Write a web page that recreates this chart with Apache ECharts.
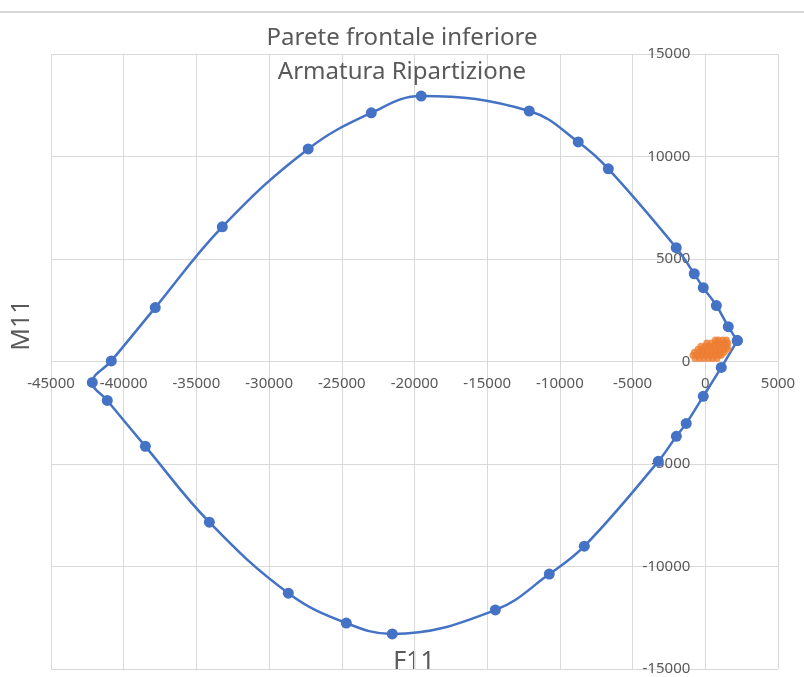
<!DOCTYPE html>
<html>
<head>
<meta charset="utf-8">
<script src="https://cdn.jsdelivr.net/npm/echarts@6/dist/echarts.min.js"></script>
<style>
html,body{margin:0;padding:0;background:#fff;}
#chart{width:804px;height:677px;}
</style>
</head>
<body>
<div id="chart"></div>
<script>
// Domain (blue) series: F11 and M11 values, in drawing order
var domainF = [2200, 1580, 760, -140, -760, -2000, -6670, -8740, -12110, -19540, -22970, -27310, -33220, -37830, -40850, -42160, -41130, -38510, -34110, -28680, -24690, -21530, -14440, -10730, -8320, -3230, -1990, -1310, -140, 1100, 2200];
var domainM = [1020, 1700, 2730, 3600, 4280, 5550, 9400, 10710, 12220, 12950, 12130, 10370, 6570, 2630, 30, -1020, -1900, -4140, -7840, -11300, -12760, -13290, -12120, -10370, -9010, -4870, -3650, -3020, -1700, -290, 1020];

// Load points (orange)
var loadF = [-700,-400,-100,200,500,800,
             -850,-550,-250,50,350,650,950,1100,
             -750,-450,-150,150,450,750,1050,1300,
             -500,-200,100,400,700,1000,1300,1550,
             -300,0,300,600,900,1200,1500,
             100,400,700,1000,1300,1550,
             700,900,1200,1450];
var loadM = [150,150,150,150,150,150,
             300,300,300,300,300,300,300,300,
             450,450,450,450,450,450,450,450,
             600,600,600,600,600,600,600,600,
             750,750,750,750,750,750,750,
             900,900,900,900,900,900,
             1050,1050,1050,1050];

var xMin = -45000, xMax = 5000, xStep = 5000;
var yMin = -15000, yMax = 15000, yStep = 5000;

var titleLines = ['Parete frontale inferiore', 'Armatura Ripartizione'];
var xName = 'F11', yName = 'M11';

function pairs(a, b) { var r = []; for (var i = 0; i < a.length; i++) r.push([a[i], b[i]]); return r; }

var FONT = '"Noto Sans", "Open Sans", sans-serif';
var TXT = '#595959';
var GRID = '#d9d9d9';
function plain(v) { return String(v); }

var G = {left: 51, right: 26, top: 54, bottom: 8};

var chart = echarts.init(document.getElementById('chart'), null, {renderer: 'canvas'});
chart.setOption({
  animation: false,
  backgroundColor: '#fff',
  title: {
    text: titleLines.join('\n'),
    left: 'center',
    top: 16,
    textStyle: {fontFamily: FONT, fontSize: 24, fontWeight: 'normal', color: TXT, lineHeight: 34}
  },
  grid: {left: G.left, right: G.right, top: G.top, bottom: G.bottom, containLabel: false, outerBoundsMode: 'none'},
  xAxis: {
    type: 'value', min: xMin, max: xMax, interval: xStep, position: 'bottom', offset: 0,
    axisLine: {show: true, onZero: false, lineStyle: {color: GRID, width: 1}},
    axisTick: {show: false},
    axisLabel: {fontFamily: FONT, fontSize: 15, color: TXT, margin: 15, formatter: plain},
    splitLine: {show: true, lineStyle: {color: GRID, width: 1}}
  },
  yAxis: {
    type: 'value', min: yMin, max: yMax, interval: yStep, position: 'left', offset: 0,
    axisLine: {show: true, onZero: false, lineStyle: {color: GRID, width: 1}},
    axisTick: {show: false},
    axisLabel: {fontFamily: FONT, fontSize: 15, color: TXT, margin: 15, formatter: plain},
    splitLine: {show: true, lineStyle: {color: GRID, width: 1}}
  },
  graphic: [
    {type: 'line', shape: {x1: 0, y1: 12, x2: 804, y2: 12}, style: {stroke: GRID, lineWidth: 2}},
    {type: 'text', x: 22, y: 325, rotation: Math.PI / 2,
      style: {text: yName, fontFamily: FONT, fontSize: 25, fill: TXT, align: 'center', verticalAlign: 'middle'}},
    {type: 'text', x: 414, y: 662,
      style: {text: xName, fontFamily: FONT, fontSize: 25, fill: TXT, align: 'center', verticalAlign: 'middle'}}
  ],
  series: [
    {
      type: 'line', data: pairs(domainF, domainM), smooth: 0.4,
      symbol: 'circle', symbolSize: 11, showSymbol: true,
      lineStyle: {color: '#4472C4', width: 2.5},
      itemStyle: {color: '#4472C4'},
      z: 3
    },
    {
      type: 'scatter', data: pairs(loadF, loadM),
      symbol: 'circle', symbolSize: 7,
      itemStyle: {color: '#ED7D31'},
      z: 4
    }
  ]
});

// Move both axes so they cross at the origin, using the library's own scales
var origin = chart.convertToPixel({gridIndex: 0}, [0, 0]);
var plotBottom = 677 - G.bottom;
chart.setOption({
  xAxis: {offset: origin[1] - plotBottom},
  yAxis: {offset: G.left - origin[0]}
});
</script>
</body>
</html>
